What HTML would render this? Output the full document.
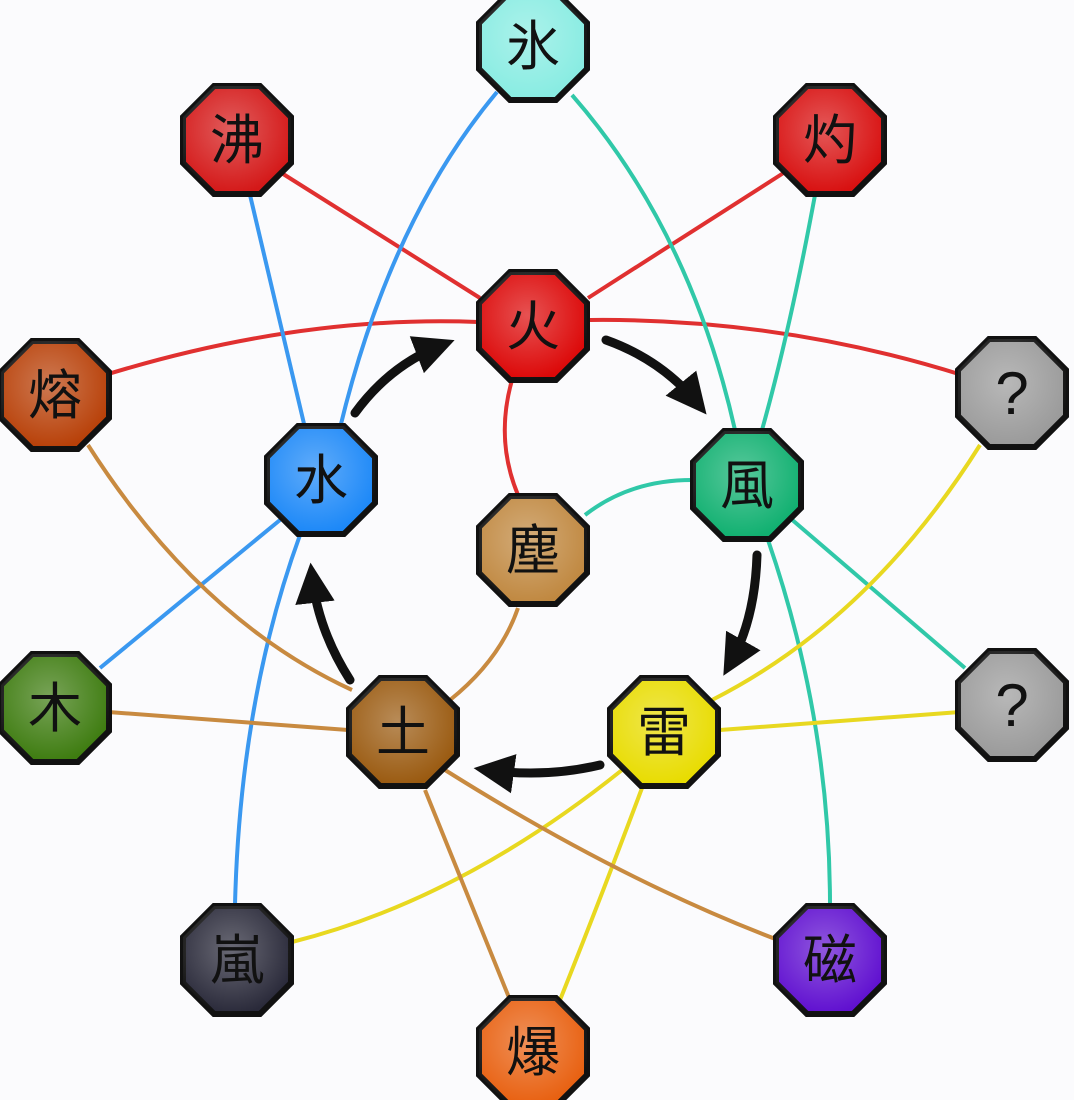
<!DOCTYPE html>
<html><head><meta charset="utf-8"><style>
html,body{margin:0;padding:0;background:#fbfbfd;width:1074px;height:1100px;overflow:hidden}
svg text{font-family:"Liberation Sans","Noto Sans CJK SC",sans-serif;font-weight:normal}
</style></head><body>
<svg width="1074" height="1100" viewBox="0 0 1074 1100" xmlns="http://www.w3.org/2000/svg">
<defs>
<radialGradient id="hl" cx="45%" cy="40%" r="60%"><stop offset="0" stop-color="#fff" stop-opacity="0.3"/><stop offset="1" stop-color="#fff" stop-opacity="0"/></radialGradient>
<polygon id="oct" points="-23,-54 23,-54 54,-23 54,23 23,54 -23,54 -54,23 -54,-23"/>
<marker id="ah" markerWidth="6" markerHeight="6" refX="3" refY="3" orient="auto" markerUnits="strokeWidth"><path d="M0,0.8 L4.5,3 L0,5.2 Z" fill="#111"/></marker>
</defs>
<g fill="none" stroke-width="4">
<g stroke="#e03030">
<path d="M280,172 L480,298"/>
<path d="M785,172 L588,298"/>
<path d="M105,375 Q300,315 478,322"/>
<path d="M590,320 Q780,318 962,375"/>
<path d="M512,380 Q495,440 518,495"/>
</g>
<g stroke="#3a98f0">
<path d="M497,92 Q390,220 340,428"/>
<path d="M250,195 Q280,320 305,428"/>
<path d="M280,520 L100,668"/>
<path d="M300,535 Q240,700 235,905"/>
</g>
<g stroke="#30c8a8">
<path d="M572,95 Q690,230 735,430"/>
<path d="M815,195 Q790,330 762,430"/>
<path d="M692,480 Q630,480 585,515"/>
<path d="M790,518 L965,668"/>
<path d="M768,540 Q830,720 830,905"/>
</g>
<g stroke="#e8d820">
<path d="M980,445 Q870,620 712,700"/>
<path d="M720,730 L960,712"/>
<path d="M622,770 Q460,900 292,942"/>
<path d="M642,788 Q600,900 560,1000"/>
</g>
<g stroke="#c88a40">
<path d="M88,445 Q200,620 352,690"/>
<path d="M108,712 L348,730"/>
<path d="M450,700 Q500,660 518,608"/>
<path d="M445,770 Q620,880 778,940"/>
<path d="M425,790 Q470,900 510,1000"/>
</g>
<g stroke="#111" stroke-width="9" stroke-linecap="round" marker-end="url(#ah)">
<path d="M355,413 Q390,365 442,345"/>
<path d="M606,340 Q662,360 698,404"/>
<path d="M757,555 Q755,620 730,664"/>
<path d="M600,765 Q545,778 487,770"/>
<path d="M350,680 Q318,630 312,576"/>
</g>
</g>
<g stroke="#111" stroke-width="6" font-size="54" text-anchor="middle">
<g transform="translate(533,46)"><use href="#oct" fill="#88ece2"/><use href="#oct" fill="url(#hl)" stroke="none"/><text y="19" stroke="none" fill="#111">氷</text></g>
<g transform="translate(237,140)"><use href="#oct" fill="#d41818"/><use href="#oct" fill="url(#hl)" stroke="none"/><text y="19" stroke="none" fill="#111">沸</text></g>
<g transform="translate(830,140)"><use href="#oct" fill="#d81010"/><use href="#oct" fill="url(#hl)" stroke="none"/><text y="19" stroke="none" fill="#111">灼</text></g>
<g transform="translate(533,326)"><use href="#oct" fill="#dc0808"/><use href="#oct" fill="url(#hl)" stroke="none"/><text y="19" stroke="none" fill="#111">火</text></g>
<g transform="translate(55,395)"><use href="#oct" fill="#b84008"/><use href="#oct" fill="url(#hl)" stroke="none"/><text y="19" stroke="none" fill="#111">熔</text></g>
<g transform="translate(1012,393)"><use href="#oct" fill="#9a9a9a"/><use href="#oct" fill="url(#hl)" stroke="none"/><text y="21" stroke="none" fill="#111" font-weight="bold" font-size="60">?</text></g>
<g transform="translate(321,480)"><use href="#oct" fill="#1c88f8"/><use href="#oct" fill="url(#hl)" stroke="none"/><text y="19" stroke="none" fill="#111">水</text></g>
<g transform="translate(747,485)"><use href="#oct" fill="#10b070"/><use href="#oct" fill="url(#hl)" stroke="none"/><text y="19" stroke="none" fill="#111">風</text></g>
<g transform="translate(533,550)"><use href="#oct" fill="#c08840"/><use href="#oct" fill="url(#hl)" stroke="none"/><text y="19" stroke="none" fill="#111">塵</text></g>
<g transform="translate(55,708)"><use href="#oct" fill="#3e7c10"/><use href="#oct" fill="url(#hl)" stroke="none"/><text y="19" stroke="none" fill="#111">木</text></g>
<g transform="translate(1012,705)"><use href="#oct" fill="#9a9a9a"/><use href="#oct" fill="url(#hl)" stroke="none"/><text y="21" stroke="none" fill="#111" font-weight="bold" font-size="60">?</text></g>
<g transform="translate(403,732)"><use href="#oct" fill="#9a5a10"/><use href="#oct" fill="url(#hl)" stroke="none"/><text y="19" stroke="none" fill="#111">土</text></g>
<g transform="translate(664,732)"><use href="#oct" fill="#e8dc00"/><use href="#oct" fill="url(#hl)" stroke="none"/><text y="19" stroke="none" fill="#111">雷</text></g>
<g transform="translate(237,960)"><use href="#oct" fill="#2a2a3a"/><use href="#oct" fill="url(#hl)" stroke="none"/><text y="19" stroke="none" fill="#111">嵐</text></g>
<g transform="translate(830,960)"><use href="#oct" fill="#6010d0"/><use href="#oct" fill="url(#hl)" stroke="none"/><text y="19" stroke="none" fill="#111">磁</text></g>
<g transform="translate(533,1052)"><use href="#oct" fill="#e86010"/><use href="#oct" fill="url(#hl)" stroke="none"/><text y="19" stroke="none" fill="#111">爆</text></g>
</g>
</svg>
</body></html>
